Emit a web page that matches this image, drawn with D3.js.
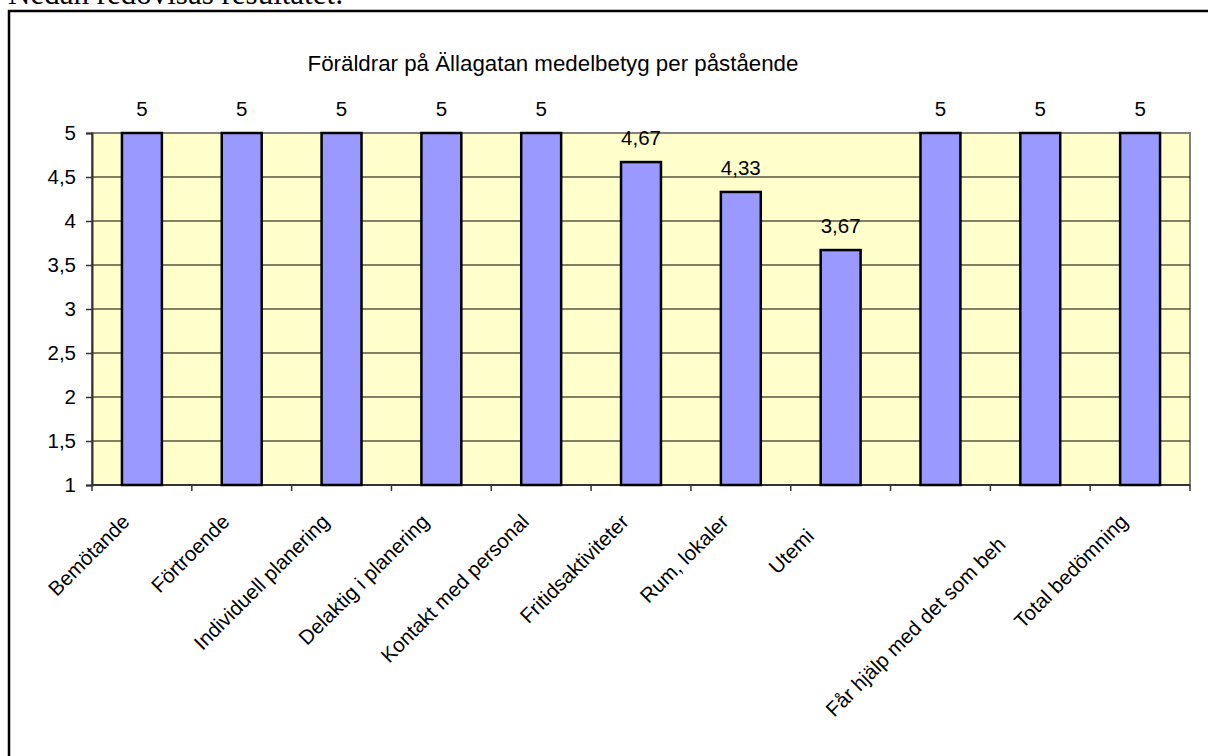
<!DOCTYPE html>
<html>
<head>
<meta charset="utf-8">
<script src="https://cdn.jsdelivr.net/npm/d3@7"></script>
<style>
  body { margin: 0; background: #fff; }
  svg { display: block; }
</style>
</head>
<body>
<div id="chart"></div>
<script>
// medelbetyg per påstående
const categories = [
    "Bemötande", "Förtroende", "Individuell planering", "Delaktig i planering",
    "Kontakt med personal", "Fritidsaktiviteter", "Rum, lokaler", "Utemiljö",
    "", "Får hjälp med det som behövs", "Total bedömning"
];
const values = [5, 5, 5, 5, 5, 4.67, 4.33, 3.67, 5, 5, 5];
const yTicks = [1, 1.5, 2, 2.5, 3, 3.5, 4, 4.5, 5];
// how many characters of each label are visible in the original (rest is cut off)
const shownChars = [null, null, null, null, null, null, null, 5, null, 25, null];
const title = "Föräldrar på Ällagatan medelbetyg per påstående";
const introText = "Nedan redovisas resultatet:";

const width = 1208, height = 756;
const plot = { left: 92, right: 1190, top: 133, bottom: 485 };
const fontSize = "20.5px";

const sv = d3.formatLocale({ decimal: ",", thousands: " ", grouping: [3], currency: ["", " kr"] });
const fmt = sv.format("~g");

const svg = d3.select("#chart").append("svg")
    .attr("width", width)
    .attr("height", height)
    .attr("viewBox", [0, 0, width, height])
    .style("font-family", "'Liberation Sans', Arial, sans-serif");

// text from the document above the chart (cut off at the top)
svg.append("text")
    .attr("x", 8)
    .attr("y", 4)
    .style("font-family", "'Liberation Serif', 'Times New Roman', serif")
    .style("font-size", "31px")
    .text(introText);

// chart frame
svg.append("rect")
    .attr("x", 9).attr("y", 11)
    .attr("width", 1260).attr("height", 800)
    .attr("fill", "none")
    .attr("stroke", "#000")
    .attr("stroke-width", 2.5);

svg.append("text")
    .attr("x", 553)
    .attr("y", 71)
    .attr("text-anchor", "middle")
    .style("font-size", "22.3px")
    .text(title);

const x = d3.scaleBand()
    .domain(d3.range(categories.length))
    .range([plot.left, plot.right])
    .paddingInner(0.6)
    .paddingOuter(0.3);

const y = d3.scaleLinear()
    .domain([1, 5])
    .range([plot.bottom, plot.top]);

// plot area
svg.append("rect")
    .attr("x", plot.left).attr("y", plot.top)
    .attr("width", plot.right - plot.left)
    .attr("height", plot.bottom - plot.top)
    .attr("fill", "#ffffcc")
    .attr("stroke", "#808080")
    .attr("stroke-width", 2);

// gridlines
svg.append("g")
    .selectAll("line")
    .data(yTicks.filter(d => d > 1 && d < 5))
    .join("line")
    .attr("x1", plot.left).attr("x2", plot.right)
    .attr("y1", d => y(d)).attr("y2", d => y(d))
    .attr("stroke", "#000")
    .attr("stroke-width", 1);

// y axis
svg.append("g")
    .attr("transform", `translate(${plot.left},0)`)
    .call(d3.axisLeft(y).tickValues(yTicks).tickFormat(fmt).tickSize(6).tickPadding(10))
    .call(g => g.select(".domain").attr("stroke", "#333").attr("stroke-width", 2))
    .call(g => g.selectAll(".tick line").attr("stroke", "#333").attr("stroke-width", 1.5))
    .call(g => g.selectAll(".tick text")
        .attr("fill", "#000")
        .style("font-size", fontSize)
        .style("font-family", "'Liberation Sans', Arial, sans-serif"));

// x axis with ticks between categories
const step = x.step();
const boundaries = d3.range(categories.length + 1).map(i => plot.left + i * step);
const xAxis = svg.append("g");
xAxis.append("line")
    .attr("x1", plot.left).attr("x2", plot.right)
    .attr("y1", plot.bottom).attr("y2", plot.bottom)
    .attr("stroke", "#333")
    .attr("stroke-width", 2);
xAxis.selectAll(".tk")
    .data(boundaries)
    .join("line")
    .attr("class", "tk")
    .attr("x1", d => d).attr("x2", d => d)
    .attr("y1", plot.bottom).attr("y2", plot.bottom + 6)
    .attr("stroke", "#333")
    .attr("stroke-width", 1.5);

// bars
svg.append("g")
    .selectAll("rect")
    .data(values)
    .join("rect")
    .attr("x", (d, i) => x(i))
    .attr("y", d => y(d))
    .attr("width", x.bandwidth())
    .attr("height", d => y(1) - y(d))
    .attr("fill", "#9999ff")
    .attr("stroke", "#000")
    .attr("stroke-width", 2.5);

// value labels
svg.append("g")
    .selectAll("text")
    .data(values)
    .join("text")
    .attr("x", (d, i) => x(i) + x.bandwidth() / 2)
    .attr("y", d => y(d) - 17)
    .attr("text-anchor", "middle")
    .style("font-size", fontSize)
    .text(d => fmt(d));

// category labels, rotated
const labels = svg.append("g")
    .selectAll("text")
    .data(categories)
    .join("text")
    .attr("transform", (d, i) => `translate(${x(i) + x.bandwidth() / 2 - 11},${523}) rotate(-45)`)
    .attr("text-anchor", "end")
    .style("font-size", fontSize);

labels.each(function(d, i) {
    const t = d3.select(this);
    const n = shownChars[i];
    if (n == null) {
        t.text(d);
    } else {
        t.append("tspan").text(d.slice(0, n));
        t.append("tspan").attr("fill", "none").text(d.slice(n));
    }
});
</script>
</body>
</html>
